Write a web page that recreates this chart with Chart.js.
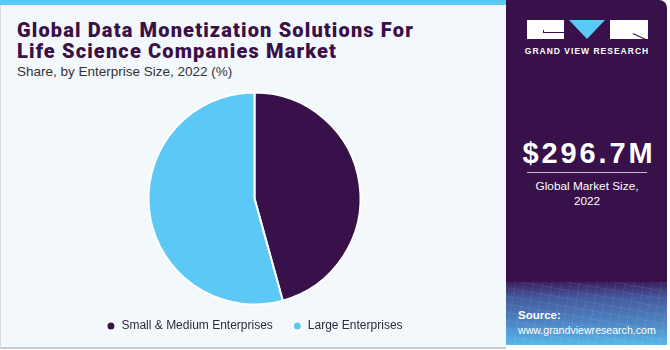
<!DOCTYPE html>
<html>
<head>
<meta charset="utf-8">
<script src="https://cdn.jsdelivr.net/npm/chart.js@4/dist/chart.umd.min.js"></script>
<style>
  html, body { margin: 0; padding: 0; }
  body { width: 670px; height: 350px; background: #ffffff; position: relative; overflow: hidden; font-family: "Liberation Sans", Arial, sans-serif; }
  #left { position: absolute; left: 0; top: 0; width: 506px; height: 349px; background: #f3f8fc; border-left: 1px solid #d8dde2; border-bottom: 2px solid #c9cdd2; box-sizing: border-box; }
  #topbar { position: absolute; left: 0; top: 0; width: 506px; height: 5px; background: #5bc8f5; }
  #title { position: absolute; left: 17px; top: 20px; font-family: Roboto, sans-serif; font-weight: 900; font-size: 20px; line-height: 21px; color: #3a1045; letter-spacing: 1.15px; white-space: nowrap; }
  #subtitle { position: absolute; left: 17px; top: 64px; font-size: 13.5px; color: #333; }
  #panel { position: absolute; left: 506px; top: 0; width: 161px; height: 345px; background: #38104a; border-top-right-radius: 8px; overflow: hidden; }
  #source { position: absolute; left: 0; bottom: 0; width: 161px; height: 63px;
    background:
      repeating-linear-gradient(100deg, rgba(255,255,255,0.07) 0 1px, transparent 1px 9px),
      repeating-linear-gradient(10deg, rgba(255,255,255,0.07) 0 1px, transparent 1px 8px),
      linear-gradient(180deg, #3b1f5c 0%, #455a9e 25%, #4c86c4 65%, #58b6ea 100%); }
  #chartbox { position: absolute; left: 0; top: 85px; width: 506px; height: 260px; }
  .w { color: #fff; position: absolute; white-space: nowrap; }
</style>
</head>
<body>
<div id="left"></div>
<div id="topbar"></div>
<div id="title">Global Data Monetization Solutions For<br>Life Science Companies Market</div>
<div id="subtitle">Share, by Enterprise Size, 2022 (%)</div>
<div id="chartbox"><canvas id="pie" width="506" height="260"></canvas></div>

<div id="panel">
  <div style="position:absolute;left:21px;top:20px;width:37px;height:19px;background:#fff;"></div>
  <div style="position:absolute;left:37px;top:32px;width:21px;height:1px;background:#38104a;"></div>
  <div style="position:absolute;left:37px;top:30px;width:1px;height:3px;background:#38104a;"></div>
  <div style="position:absolute;left:63px;top:20px;width:0;height:0;border-left:18.5px solid transparent;border-right:18.5px solid transparent;border-top:19px solid #5bc8f5;"></div>
  <div style="position:absolute;left:104px;top:20px;width:38px;height:19px;background:#fff;"></div>
  <div style="position:absolute;left:127px;top:33px;width:15px;height:1px;background:#38104a;transform:rotate(25deg);transform-origin:0 0;"></div>
  <div class="w" style="left:0;top:46px;width:162px;text-align:center;font-weight:bold;font-size:8.5px;letter-spacing:1px;">GRAND VIEW RESEARCH</div>
  <div class="w" style="left:2px;top:137px;width:162px;text-align:center;font-weight:bold;font-size:29px;letter-spacing:2.9px;">$296.7M</div>
  <div style="position:absolute;left:21px;top:172px;width:120px;height:1px;background:#c9b9d2;"></div>
  <div class="w" style="left:0;top:179px;width:162px;text-align:center;font-size:11.8px;line-height:15px;">Global Market Size,<br>2022</div>
  <div id="source">
    <div class="w" style="left:12px;top:27px;font-weight:bold;font-size:11.5px;">Source:</div>
    <div class="w" style="left:12px;top:42px;font-size:10.6px;">www.grandviewresearch.com</div>
  </div>
</div>

<script>
const categories = ["Small & Medium Enterprises", "Large Enterprises"];
const shareValues = [45.7, 54.3];
const sliceColors = ["#38104a", "#5bc8f5"];

new Chart(document.getElementById("pie").getContext("2d"), {
  type: "pie",
  data: {
    labels: categories,
    datasets: [{
      data: shareValues,
      backgroundColor: sliceColors,
      borderColor: "#ffffff",
      borderWidth: 2,
      hoverOffset: 0
    }]
  },
  options: {
    responsive: false,
    animation: false,
    radius: 106,
    layout: { padding: { top: 12, bottom: 3, left: 3 } },
    plugins: {
      tooltip: { enabled: false },
      legend: {
        position: "bottom",
        labels: {
          usePointStyle: true,
          pointStyle: "circle",
          pointStyleWidth: 9,
          boxHeight: 6.4,
          padding: 20,
          color: "#2e2a38",
          font: { family: "'Liberation Sans', Arial, sans-serif", size: 12 }
        }
      }
    }
  }
});
</script>
</body>
</html>
